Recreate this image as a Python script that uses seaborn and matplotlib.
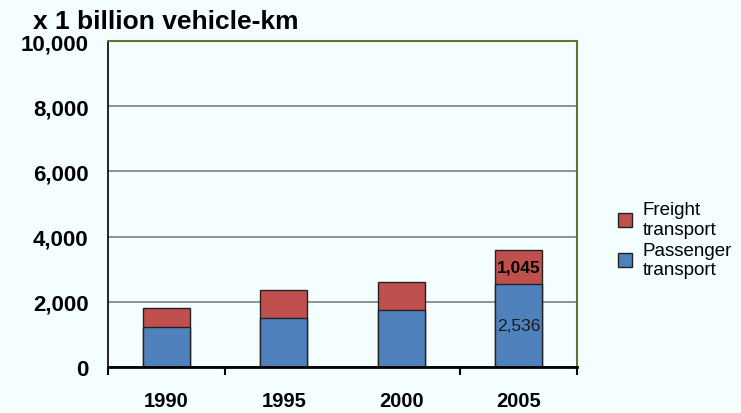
import pandas as pd
import matplotlib.pyplot as plt
import seaborn as sns
import numpy as np

# values (x 1 billion vehicle-km)
years = ['1990', '1995', '2000', '2005']
passenger = [1230, 1500, 1750, 2536]
freight = [580, 860, 860, 1045]
y_ticks = [0, 2000, 4000, 6000, 8000, 10000]

sns.set_theme(style='white')
plt.rcParams['font.family'] = ['Liberation Sans', 'DejaVu Sans']
plt.rcParams['text.color'] = 'black'
plt.rcParams['xtick.color'] = 'black'
plt.rcParams['ytick.color'] = 'black'

bg = '#F5FEFF'
blue = '#4F81BD'
red = '#C0504D'

df = pd.DataFrame({'year': years, 'Passenger transport': passenger,
                   'Freight transport': freight})
df['total'] = df['Passenger transport'] + df['Freight transport']

fig = plt.figure(figsize=(7.41, 4.14), dpi=100, facecolor=bg)
ax = fig.add_axes([108 / 741, 46 / 414, 469 / 741, 326 / 414])
ax.set_facecolor(bg)

# stacked bars: draw total (freight colour) then passenger on top
sns.barplot(data=df, x='year', y='total', color=red, width=0.4,
            edgecolor='#222222', linewidth=1, saturation=1, ax=ax,
            label='Freight\ntransport')
sns.barplot(data=df, x='year', y='Passenger transport', color=blue, width=0.4,
            edgecolor='#222222', linewidth=1, saturation=1, ax=ax,
            label='Passenger\ntransport')

ax.set_ylim(0, 10000)
ax.set_xlim(-0.5, 3.5)
ax.set_yticks(y_ticks)
ax.set_yticklabels([f'{v:,}' for v in y_ticks], fontsize=16, fontweight='bold')
ax.set_xticks(range(len(years)))
ax.set_xticklabels(years, fontsize=14.5, fontweight='bold')
ax.tick_params(axis='x', length=0, pad=17)
ax.tick_params(axis='y', length=0, pad=14)
ax.set_xticks([-0.5, 0.5, 2.5, 3.5], minor=True)
ax.tick_params(axis='x', which='minor', length=6, width=1.5, color='black',
               direction='out', bottom=True)
ax.set_xlabel('')
ax.set_ylabel('')

ax.yaxis.grid(True, color='#808080', linewidth=1.2)
ax.set_axisbelow(True)

for s in ['top', 'right']:
    ax.spines[s].set_color('#5F7530')
    ax.spines[s].set_linewidth(1.5)
ax.spines['left'].set_color('black')
ax.spines['left'].set_linewidth(1.2)
ax.spines['bottom'].set_color('black')
ax.spines['bottom'].set_linewidth(2)

# data labels for 2005
i = len(years) - 1
ax.text(i, passenger[i] + freight[i] / 2, f'{freight[i]:,}', ha='center',
        va='center', fontsize=12.5, fontweight='bold', color='black')
ax.text(i, passenger[i] / 2, f'{passenger[i]:,}', ha='center', va='center',
        fontsize=12.5, color='#1a1a1a')

ax.legend(loc='center left', bbox_to_anchor=(1.068, 0.39), frameon=False,
          borderpad=0, fontsize=13.5, handlelength=0.75, handleheight=0.75,
          labelspacing=0.2, handletextpad=0.55)

fig.text(33 / 741, 1 - 22 / 414, 'x 1 billion vehicle-km', fontsize=19,
         fontweight='bold', va='center', ha='left', color='black')

fig.savefig('out.png', dpi=100, facecolor=bg)
